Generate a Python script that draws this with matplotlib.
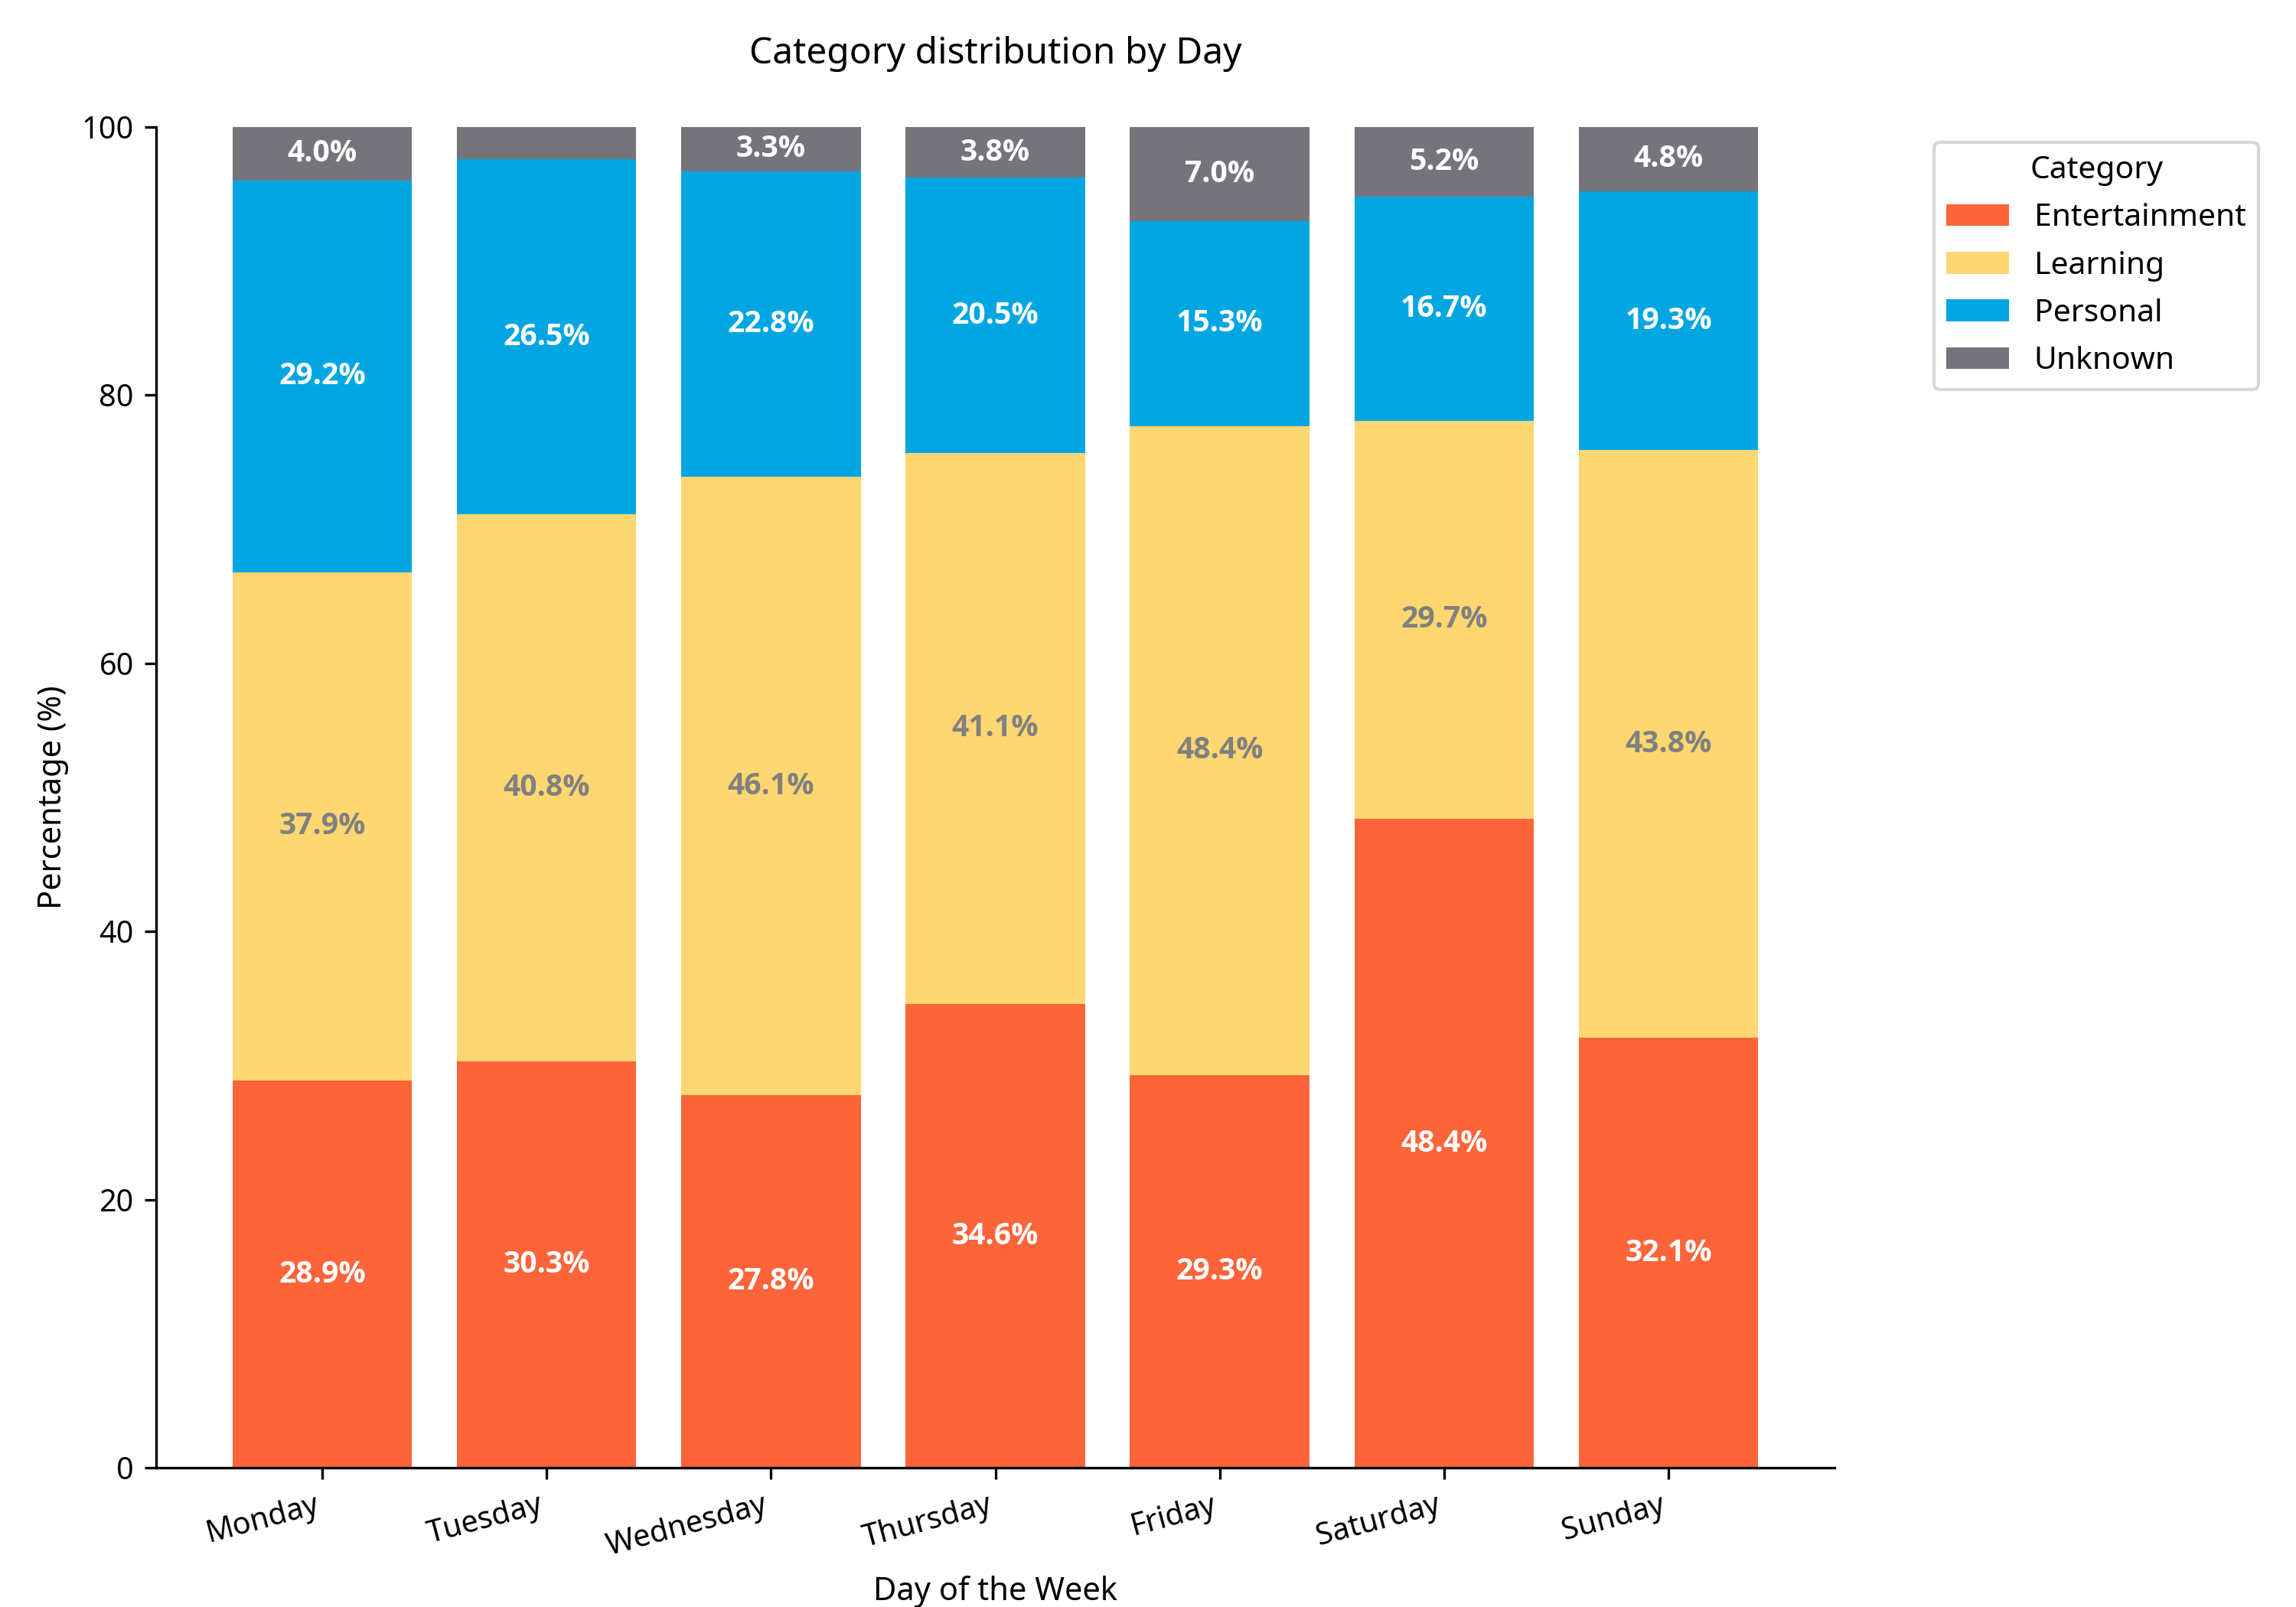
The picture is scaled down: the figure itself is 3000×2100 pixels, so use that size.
#!/usr/bin/env python3

import numpy as np
import matplotlib
matplotlib.use('Agg')
import matplotlib.pyplot as plt
from matplotlib import font_manager

plt.rcParams['font.family'] = ['Noto Sans', 'DejaVu Sans']

days = ['Monday', 'Tuesday', 'Wednesday', 'Thursday', 'Friday',
        'Saturday', 'Sunday']
categories = ['Entertainment', 'Learning', 'Personal', 'Unknown']

# Percent share of each category, one value per day.
entertainment = [28.9, 30.3, 27.8, 34.6, 29.3, 48.4, 32.1]
learning = [37.9, 40.8, 46.1, 41.1, 48.4, 29.7, 43.8]
personal = [29.2, 26.5, 22.8, 20.5, 15.3, 16.7, 19.3]
unknown = [4.0, 2.4, 3.3, 3.8, 7.0, 5.2, 4.8]

colors = ['#FC643A', '#FED772', '#00A6E2', '#75747A']
text_colors = ['white', 'gray', 'white', 'white']

# pick a family that really has a bold face for the bar labels
bold_family = 'DejaVu Sans'
for fam in ['Noto Sans', 'Open Sans', 'Lato']:
    fp = font_manager.FontProperties(family=fam, weight='bold')
    path = font_manager.findfont(fp, fallback_to_default=False)
    if 'bold' in path.lower():
        bold_family = fam
        break

f = plt.figure(figsize=[10, 7])
ax = f.add_axes([0.068, 0.0865, 0.731, 0.8345])

x = np.arange(len(days))
bottom = np.zeros(len(days))
for name, vals, c, tc in zip(categories,
                             [entertainment, learning, personal, unknown],
                             colors, text_colors):
    vals = np.array(vals)
    ax.bar(x, vals, 0.8, bottom=bottom, color=c, label=name)
    for xi, b, v in zip(x, bottom, vals):
        # skip slivers that are too thin for a label
        if v >= 3:
            ax.text(xi, b + v / 2., '{:.1f}%'.format(v), ha='center',
                    va='center', color=tc, fontsize=9.4, fontweight='bold',
                    family=bold_family)
    bottom += vals

ax.set_ylim(0, 100)
ax.set_xticks(x)
ax.set_xticklabels(days, rotation=15, ha='right')
ax.tick_params(labelsize=9.5)
ax.spines['top'].set_visible(False)
ax.spines['right'].set_visible(False)

ax.set_xlabel('Day of the Week', fontsize=10)
ax.set_ylabel('Percentage (%)', fontsize=10)
ax.set_title('Category distribution by Day', fontsize=11.5, pad=20)

leg = ax.legend(title='Category', loc='upper left', bbox_to_anchor=(1.05, 1),
                fontsize=9.8, title_fontsize=9.8, labelspacing=0.55)

f.savefig('out.png', dpi=300)
